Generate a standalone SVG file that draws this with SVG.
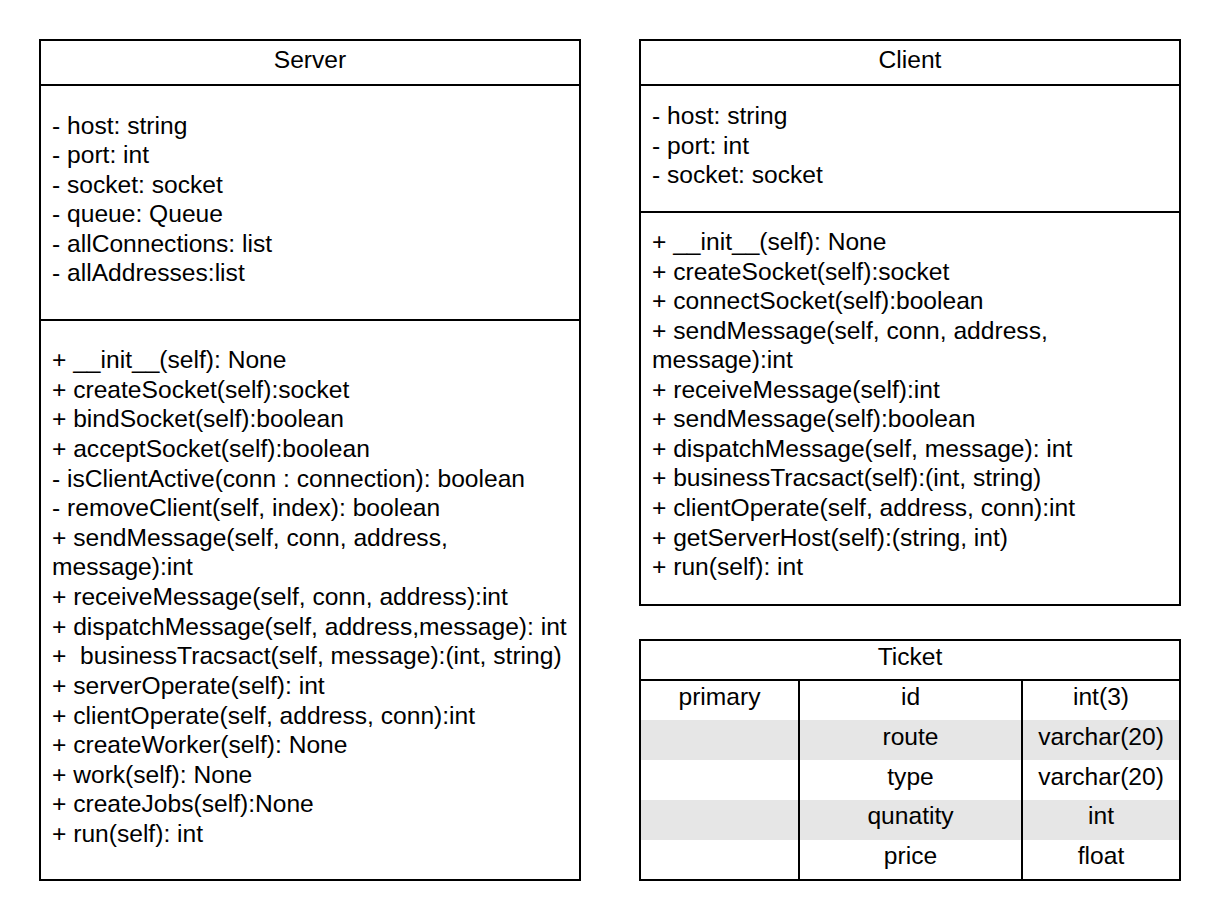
<svg xmlns="http://www.w3.org/2000/svg" width="1220" height="920" viewBox="0 0 1220 920">
<style>
text{font-family:"Liberation Sans",Arial,sans-serif;font-size:24.6px;fill:#000;white-space:pre}
.c{text-anchor:middle}
.b{fill:#fff;stroke:#000;stroke-width:2}
.l{stroke:#000;stroke-width:2;fill:none}
.s{fill:#e6e6e6}
</style>
<rect width="1220" height="920" fill="#fff"/>
<g id="server">
<rect class="b" x="40" y="40" width="540" height="840"/>
<line class="l" x1="40" y1="85" x2="580" y2="85"/>
<line class="l" x1="40" y1="320" x2="580" y2="320"/>
<text class="c" x="310" y="68">Server</text>
<text x="52" y="134">- host: string</text>
<text x="52" y="163.4">- port: int</text>
<text x="52" y="192.8">- socket: socket</text>
<text x="52" y="222.2">- queue: Queue</text>
<text x="52" y="251.6">- allConnections: list</text>
<text x="52" y="281">- allAddresses:list</text>
<text x="52" y="368">+ __init__(self): None</text>
<text x="52" y="397.6">+ createSocket(self):socket</text>
<text x="52" y="427.3">+ bindSocket(self):boolean</text>
<text x="52" y="456.9">+ acceptSocket(self):boolean</text>
<text x="52" y="486.5">- isClientActive(conn : connection): boolean</text>
<text x="52" y="516.1">- removeClient(self, index): boolean</text>
<text x="52" y="545.8">+ sendMessage(self, conn, address,</text>
<text x="52" y="575.4">message):int</text>
<text x="52" y="605">+ receiveMessage(self, conn, address):int</text>
<text x="52" y="634.6">+ dispatchMessage(self, address,message): int</text>
<text x="52" y="664.3" xml:space="preserve">+  businessTracsact(self, message):(int, string)</text>
<text x="52" y="693.9">+ serverOperate(self): int</text>
<text x="52" y="723.5">+ clientOperate(self, address, conn):int</text>
<text x="52" y="753.1">+ createWorker(self): None</text>
<text x="52" y="782.8">+ work(self): None</text>
<text x="52" y="812.4">+ createJobs(self):None</text>
<text x="52" y="842">+ run(self): int</text>
</g>
<g id="client">
<rect class="b" x="640" y="40" width="540" height="565"/>
<line class="l" x1="640" y1="85" x2="1180" y2="85"/>
<line class="l" x1="640" y1="212" x2="1180" y2="212"/>
<text class="c" x="910" y="68">Client</text>
<text x="652" y="124">- host: string</text>
<text x="652" y="153.5">- port: int</text>
<text x="652" y="183">- socket: socket</text>
<text x="652" y="250">+ __init__(self): None</text>
<text x="652" y="279.5">+ createSocket(self):socket</text>
<text x="652" y="309.1">+ connectSocket(self):boolean</text>
<text x="652" y="338.7">+ sendMessage(self, conn, address,</text>
<text x="652" y="368.2">message):int</text>
<text x="652" y="397.8">+ receiveMessage(self):int</text>
<text x="652" y="427.3">+ sendMessage(self):boolean</text>
<text x="652" y="456.9">+ dispatchMessage(self, message): int</text>
<text x="652" y="486.4">+ businessTracsact(self):(int, string)</text>
<text x="652" y="516">+ clientOperate(self, address, conn):int</text>
<text x="652" y="545.5">+ getServerHost(self):(string, int)</text>
<text x="652" y="575">+ run(self): int</text>
</g>
<g id="ticket">
<rect class="b" x="640" y="640" width="540" height="240"/>
<rect class="s" x="641" y="720" width="538" height="40"/>
<rect class="s" x="641" y="800" width="538" height="40"/>
<line class="l" x1="640" y1="680" x2="1180" y2="680"/>
<line class="l" x1="799" y1="680" x2="799" y2="880"/>
<line class="l" x1="1022" y1="680" x2="1022" y2="880"/>
<rect x="640" y="640" width="540" height="240" fill="none" stroke="#000" stroke-width="2"/>
<text class="c" x="910" y="665">Ticket</text>
<text class="c" x="719.5" y="705">primary</text>
<text class="c" x="910.5" y="705">id</text>
<text class="c" x="1101" y="705">int(3)</text>
<text class="c" x="910.5" y="745">route</text>
<text class="c" x="1101" y="745">varchar(20)</text>
<text class="c" x="910.5" y="785">type</text>
<text class="c" x="1101" y="785">varchar(20)</text>
<text class="c" x="910.5" y="824">qunatity</text>
<text class="c" x="1101" y="824">int</text>
<text class="c" x="910.5" y="864">price</text>
<text class="c" x="1101" y="864">float</text>
</g>
<g id="connectors"></g>
</svg>
